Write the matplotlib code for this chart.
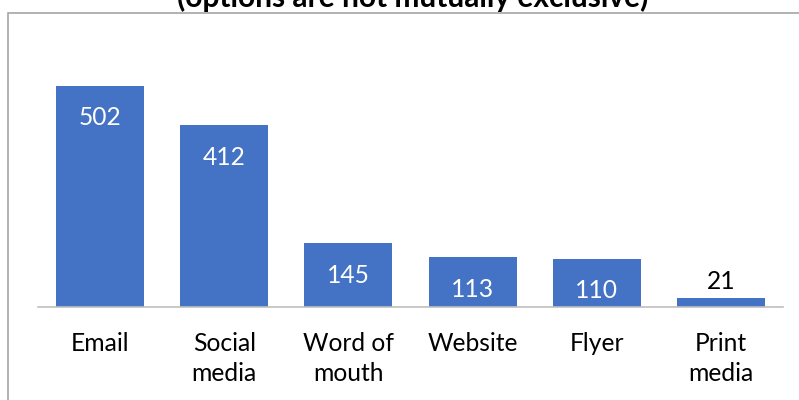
import numpy as np
import matplotlib.pyplot as plt
from matplotlib.patches import Rectangle

categories = ["Email", "Social\nmedia", "Word of\nmouth", "Website", "Flyer", "Print\nmedia"]
counts = [502, 412, 145, 113, 110, 21]
title = "(options are not mutually exclusive)"

bar_color = "#4472C4"
W, H = 799, 400

plt.rcParams['font.family'] = ['Lato', 'DejaVu Sans']

fig = plt.figure(figsize=(W / 100, H / 100), dpi=100)

# outer chart frame (runs off the right and bottom edges)
fig.patches.append(Rectangle((8 / W, -0.1), 1.1, 1 - 12.7 / H + 0.1,
                             transform=fig.transFigure, fill=False,
                             edgecolor="#A6A6A6", linewidth=1.2))

fig.text(413 / W, 1 - 7.5 / H, title, ha="center", va="baseline",
         fontsize=21.5, fontweight="bold", color="black")

ax = fig.add_axes([38 / W, 1 - 307.3 / H, (783 - 38) / W, (307.3 - 40) / H])
x = np.arange(len(categories))
bars = ax.bar(x, counts, width=0.71, color=bar_color)
ax.set_xlim(-0.5, len(categories) - 0.5)
ax.set_ylim(0, 605.6)

for s in ["top", "right", "left"]:
    ax.spines[s].set_visible(False)
ax.spines["bottom"].set_color("#BFBFBF")
ax.spines["bottom"].set_linewidth(1.2)
ax.set_yticks([])
ax.set_xticks(x)
ax.set_xticklabels(categories, fontsize=17.7, linespacing=1.33)
ax.tick_params(axis="x", length=0, pad=18)

for xi, v in zip(x, counts):
    if v > 60:
        ax.annotate(str(v), (xi, v), xytext=(0, -23), textcoords="offset points",
                    ha="center", va="center", color="white", fontsize=17.7)
    else:
        ax.annotate(str(v), (xi, v), xytext=(0, 12), textcoords="offset points",
                    ha="center", va="center", color="black", fontsize=17.7)

fig.savefig("out.png", dpi=100)
